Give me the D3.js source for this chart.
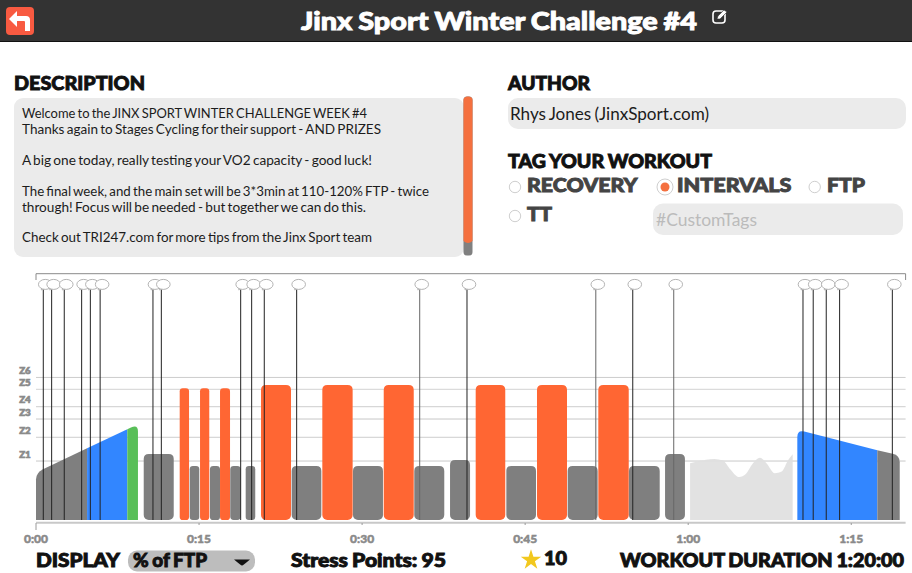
<!DOCTYPE html>
<html>
<head>
<meta charset="utf-8">
<script src="https://cdn.jsdelivr.net/npm/d3@7"></script>
<style>
html, body { margin: 0; padding: 0; background: #fff; overflow: hidden; }
svg { display: block; }
</style>
</head>
<body>
<div id="d3-container-workout"></div>
<script>
// workout segments, minutes and % of FTP
const segmentStart = [0, 4.7, 8.4, 9.91, 13.22, 14.14, 15.09, 16.0, 16.93, 17.87, 19.29, 20.7, 23.52, 26.34, 29.16, 31.99, 34.8, 38.09, 40.45, 43.27, 46.09, 48.91, 51.73, 54.55, 57.87, 70.04, 77.4];
const segmentEnd = [4.7, 8.4, 9.38, 12.67, 14.08, 15.02, 15.94, 16.93, 17.85, 18.83, 20.17, 23.46, 26.25, 29.13, 31.92, 34.75, 37.56, 39.93, 43.17, 46.0, 48.85, 51.67, 54.53, 57.38, 59.7, 77.4, 79.46];
const segmentFrom = [44, 66.4, 84, 61, 122, 50, 122, 50, 122, 50, 50, 125, 50, 125, 50, 125, 50, 55.5, 125, 50, 125, 50, 125, 50, 61, 83.5, 64.5];
const segmentTo = [66.4, 84, 88.6, 61, 122, 50, 122, 50, 122, 50, 50, 125, 50, 125, 50, 125, 50, 55.5, 125, 50, 125, 50, 125, 50, 61, 64.5, 60];
const segmentZone = ["z1", "z2", "z3", "z1", "z5", "z1", "z5", "z1", "z5", "z1", "z1", "z5", "z1", "z5", "z1", "z5", "z1", "z1", "z5", "z1", "z5", "z1", "z5", "z1", "z1", "z2", "z1"];

// free ride section
const freeMinutes = [60.17, 60.9, 62.4, 63.2, 63.8, 64.7, 65.3, 65.96, 66.6, 67.2, 67.96, 68.6, 69.2, 69.61];
const freePower = [52.5, 54.3, 56.5, 55, 47.8, 39.8, 42.6, 52.5, 57.7, 52.5, 43.2, 44.8, 55.6, 60.8];

// text events on the timeline
const messageMinutes = [0.67, 1.44, 2.6, 4.2, 5.0, 5.9, 10.76, 11.53, 18.83, 19.84, 21.0, 23.98, 35.3, 39.65, 51.5, 54.9, 58.67, 70.56, 71.5, 72.7, 73.93, 78.78];
const fadedMessages = [35.3, 51.5, 58.67];

const zoneNames = ["Z1", "Z2", "Z3", "Z4", "Z5", "Z6"];
const zoneLines = [54.6, 76.6, 93.5, 104.9, 121, 132];
const tickMinutes = [0, 15, 30, 45, 60, 75];
const tickLabels = ["0:00", "0:15", "0:30", "0:45", "1:00", "1:15"];

const descriptionLines = [
    "Welcome to the JINX SPORT WINTER CHALLENGE WEEK #4",
    "Thanks again to Stages Cycling for their support - AND PRIZES",
    "",
    "A big one today, really testing your VO2 capacity - good luck!",
    "",
    "The final week, and the main set will be 3*3min at 110-120% FTP - twice",
    "through!  Focus will be needed - but together we can do this.",
    "",
    "Check out TRI247.com for more tips from the Jinx Sport team"
];
const descriptionWidths = [345, 359, 0, 350, 0, 407, 344, 0, 350];

const width = 912;
const height = 573;
const heavy = "Lato, 'Open Sans', sans-serif";
const zoneColor = {z1: "#7f7f7f", z2: "#3286ff", z3: "#59bf59", z5: "#ff6633"};

const svg = d3.select("#d3-container-workout")
    .append("svg")
    .attr("width", width)
    .attr("height", height)
    .attr("viewBox", [0, 0, width, height]);

const x = d3.scaleLinear().domain([0, 80]).range([36, 905.6]);
const y = d3.scaleLinear().domain([0, 100]).range([520, 412]);

function label(str, left, right, cy, size, color, weight) {
    const bold = !weight;
    return svg.append("text")
        .attr("x", left)
        .attr("y", cy)
        .attr("dominant-baseline", "central")
        .attr("textLength", right - left)
        .attr("lengthAdjust", "spacingAndGlyphs")
        .attr("font-family", heavy)
        .attr("font-size", size)
        .attr("font-weight", weight || 900)
        .attr("word-spacing", bold ? -0.8 : -1.2)
        .attr("fill", color)
        .attr("stroke", bold ? color : "none")
        .attr("stroke-width", bold ? 0.9 : 0)
        .text(str);
}

// header
svg.append("rect").attr("width", width).attr("height", 41).attr("fill", "#333333");
svg.append("rect").attr("y", 41).attr("width", width).attr("height", 1).attr("fill", "#111");
svg.append("rect").attr("x", 6).attr("y", 7).attr("width", 28).attr("height", 28).attr("rx", 4).attr("fill", "#f85a41");
svg.append("path")
    .attr("d", "M9 19 L17 11 V16 H26 Q30 16 30 20 V31 H25 V22 Q25 21 24 21 H17 V27 Z")
    .attr("fill", "#fff");
label("Jinx Sport Winter Challenge #4", 301, 697, 19.5, 25, "#fff");
svg.append("rect").attr("x", 713).attr("y", 11).attr("width", 12).attr("height", 12).attr("rx", 3)
    .attr("fill", "none").attr("stroke", "#fff").attr("stroke-width", 1.6);
svg.append("path").attr("d", "M717 19 L718 16 L724 10 L727 12 L720 19 Z").attr("fill", "#fff").attr("stroke", "#333").attr("stroke-width", 0.6);

// description panel
label("DESCRIPTION", 14, 145, 82.5, 19, "#111");
svg.append("rect").attr("x", 14).attr("y", 98).attr("width", 450).attr("height", 159).attr("rx", 9).attr("fill", "#ebebeb");
const lineYs = [113, 129, 144.5, 160, 175.5, 191, 207, 222, 237];
descriptionLines.forEach((line, i) => {
    if (line) label(line, 22, 22 + descriptionWidths[i], lineYs[i], 13.5, "#1c1c1c", 400);
});
svg.append("rect").attr("x", 463.5).attr("y", 96.5).attr("width", 9).attr("height", 159).attr("rx", 3.5).attr("fill", "#808080");
svg.append("path").attr("d", "M463.5 100 Q463.5 96.5 468 96.5 Q472.5 96.5 472.5 100 V241 Q468 245 463.5 241 Z").attr("fill", "#f4703f");

// author and tags
label("AUTHOR", 508, 590, 82.5, 19, "#111");
svg.append("rect").attr("x", 508).attr("y", 98).attr("width", 398).attr("height", 31).attr("rx", 10).attr("fill", "#ebebeb");
label("Rhys Jones (JinxSport.com)", 510, 709, 113.5, 16.5, "#1c1c1c", 400);
label("TAG YOUR WORKOUT", 508, 712, 160.5, 19, "#111");

const tagNames = ["RECOVERY", "INTERVALS", "FTP", "TT"];
const tagBoxes = [[515, 527, 637.5, 185], [665, 677, 791.5, 185], [814.7, 827, 865, 185], [515, 527, 552, 214]];
tagNames.forEach((tag, i) => {
    const b = tagBoxes[i];
    const on = tag === "INTERVALS";
    svg.append("circle").attr("cx", b[0]).attr("cy", b[3] + 2).attr("r", on ? 8 : 5.7)
        .attr("fill", "#fff").attr("stroke", "#cfcfcf").attr("stroke-width", 1);
    if (on) svg.append("circle").attr("cx", b[0]).attr("cy", b[3] + 2).attr("r", 4.5).attr("fill", "#f4703f");
    label(tag, b[1], b[2], b[3] - 0.5, 19, "#444");
});
svg.append("rect").attr("x", 653).attr("y", 203.5).attr("width", 250).attr("height", 31.5).attr("rx", 10).attr("fill", "#ebebeb");
label("#CustomTags", 656, 757, 219.5, 16.5, "#bbb", 400);

// chart frame
svg.append("path")
    .attr("d", `M${x(0)} 280 V273.7 H${x(80)} V280`)
    .attr("fill", "none").attr("stroke", "#8a8a8a").attr("stroke-width", 1);

const zones = svg.append("g");
zones.selectAll("line")
    .data(zoneLines)
    .enter()
    .append("line")
    .attr("x1", x(0))
    .attr("x2", x(80))
    .attr("y1", d => y(d))
    .attr("y2", d => y(d))
    .attr("stroke", (d, i) => i % 2 === 0 ? "#c8c8c8" : "#cdcdcd")
    .attr("stroke-width", (d, i) => i === 4 ? 0.8 : 1);
zones.selectAll("text")
    .data(zoneNames)
    .enter()
    .append("text")
    .attr("x", 25)
    .attr("y", (d, i) => y(zoneLines[i]) - 7.5)
    .attr("text-anchor", "middle")
    .attr("dominant-baseline", "central")
    .attr("font-family", heavy)
    .attr("font-size", 9.8)
    .attr("font-weight", 900)
    .attr("fill", "#8a8a8a")
    .attr("stroke", "#8a8a8a")
    .attr("stroke-width", 0.7)
    .text(d => d);

// axis
svg.append("line")
    .attr("x1", x(0)).attr("x2", x(80))
    .attr("y1", 522.7).attr("y2", 522.7)
    .attr("stroke", "#c8c8c8").attr("stroke-width", 2);
const axis = svg.append("g");
axis.selectAll("line")
    .data(tickMinutes)
    .enter()
    .append("line")
    .attr("x1", d => x(d))
    .attr("x2", d => x(d))
    .attr("y1", 523)
    .attr("y2", d => d === 0 ? 530 : 525)
    .attr("stroke", "#9a9a9a");
axis.selectAll("text")
    .data(tickLabels)
    .enter()
    .append("text")
    .attr("x", (d, i) => x(tickMinutes[i]))
    .attr("y", 538.5)
    .attr("text-anchor", "middle")
    .attr("dominant-baseline", "central")
    .attr("font-family", heavy)
    .attr("font-size", 12)
    .attr("font-weight", 900)
    .attr("fill", "#8a8a8a")
    .attr("stroke", "#8a8a8a")
    .attr("stroke-width", 0.5)
    .text(d => d);

// free ride under the blocks
const freeArea = d3.area()
    .x((d, i) => x(freeMinutes[i]))
    .y0(y(0))
    .y1(d => y(d))
    .curve(d3.curveMonotoneX);
svg.append("path")
    .attr("d", freeArea(freePower))
    .attr("fill", "#dfdfdf")
    .attr("fill-opacity", 0.92);

// blocks, corners only round where the segment is not joined to a neighbour
function segmentPath(i) {
    const x0 = x(segmentStart[i]), x1 = x(segmentEnd[i]);
    const y0 = y(segmentFrom[i]), y1 = y(segmentTo[i]), base = y(0);
    const ramp = segmentFrom[i] !== segmentTo[i];
    const joinL = i > 0 && segmentEnd[i - 1] === segmentStart[i] && segmentTo[i - 1] === segmentFrom[i];
    const joinR = i < segmentStart.length - 1 && segmentEnd[i] === segmentStart[i + 1] && segmentTo[i] === segmentFrom[i + 1];
    const w = x1 - x0;
    const rt = joinL && joinR ? 0 : ramp ? 7 : Math.min(5, w / 3);
    const rb = ramp ? 0 : Math.min(5, w / 3);
    const p = d3.path();
    p.moveTo(x0, joinL ? base : base - rb);
    if (!joinL && rb) p.arcTo(x0, base, x0 + rb, base, rb); else p.lineTo(x0, base);
    if (!joinR && rb) {
        p.lineTo(x1 - rb, base);
        p.arcTo(x1, base, x1, base - rb, rb);
    } else p.lineTo(x1, base);
    const slope = (y1 - y0) / w;
    if (joinR) p.lineTo(x1, y1);
    else {
        p.lineTo(x1, y1 + rt);
        p.quadraticCurveTo(x1, y1, x1 - rt, y1 - slope * rt);
    }
    if (joinL) p.lineTo(x0, y0);
    else {
        p.lineTo(x0 + rt, y0 + slope * rt);
        p.quadraticCurveTo(x0, y0, x0, y0 + rt);
    }
    p.closePath();
    return p.toString();
}

svg.append("g")
    .selectAll("path")
    .data(segmentStart)
    .enter()
    .append("path")
    .attr("d", (d, i) => segmentPath(i))
    .attr("fill", (d, i) => zoneColor[segmentZone[i]]);

// text events
const flags = svg.append("g")
    .selectAll("g")
    .data(messageMinutes)
    .enter()
    .append("g")
    .attr("transform", d => "translate(" + x(d) + ",0)");
flags.append("line")
    .attr("y1", 289.5)
    .attr("y2", y(0))
    .attr("stroke", d => fadedMessages.includes(d) ? "#666" : "#222")
    .attr("stroke-width", 1);
flags.append("path")
    .attr("d", "M-2 290 L-1.5 287 L2 288 Z")
    .attr("fill", "#fff")
    .attr("stroke", "#999")
    .attr("stroke-width", 0.6);
flags.append("ellipse")
    .attr("cx", 2)
    .attr("cy", 284.4)
    .attr("rx", 6.8)
    .attr("ry", 5)
    .attr("fill", "#fff")
    .attr("stroke", "#aaa")
    .attr("stroke-width", 0.9);

// footer
label("DISPLAY", 36, 120, 559.5, 18, "#111");
svg.append("rect").attr("x", 128).attr("y", 550.5).attr("width", 127).attr("height", 21).attr("rx", 9).attr("fill", "#bdbdbd");
label("% of FTP", 133, 207, 559.5, 18, "#111");
svg.append("path").attr("d", "M234 559.5 H250 Q243 565.5 242 565.5 Q241 565.5 234 559.5 Z").attr("fill", "#111");
label("Stress Points: 95", 291, 446, 559.5, 18, "#111");
svg.append("path")
    .attr("d", d3.symbol().type(d3.symbolStar).size(130)())
    .attr("transform", "translate(531,560)")
    .attr("fill", "#f2c81e");
label("10", 544, 567, 558, 18, "#111");
label("WORKOUT DURATION 1:20:00", 620, 904, 559.5, 18, "#111");
</script>
</body>
</html>
